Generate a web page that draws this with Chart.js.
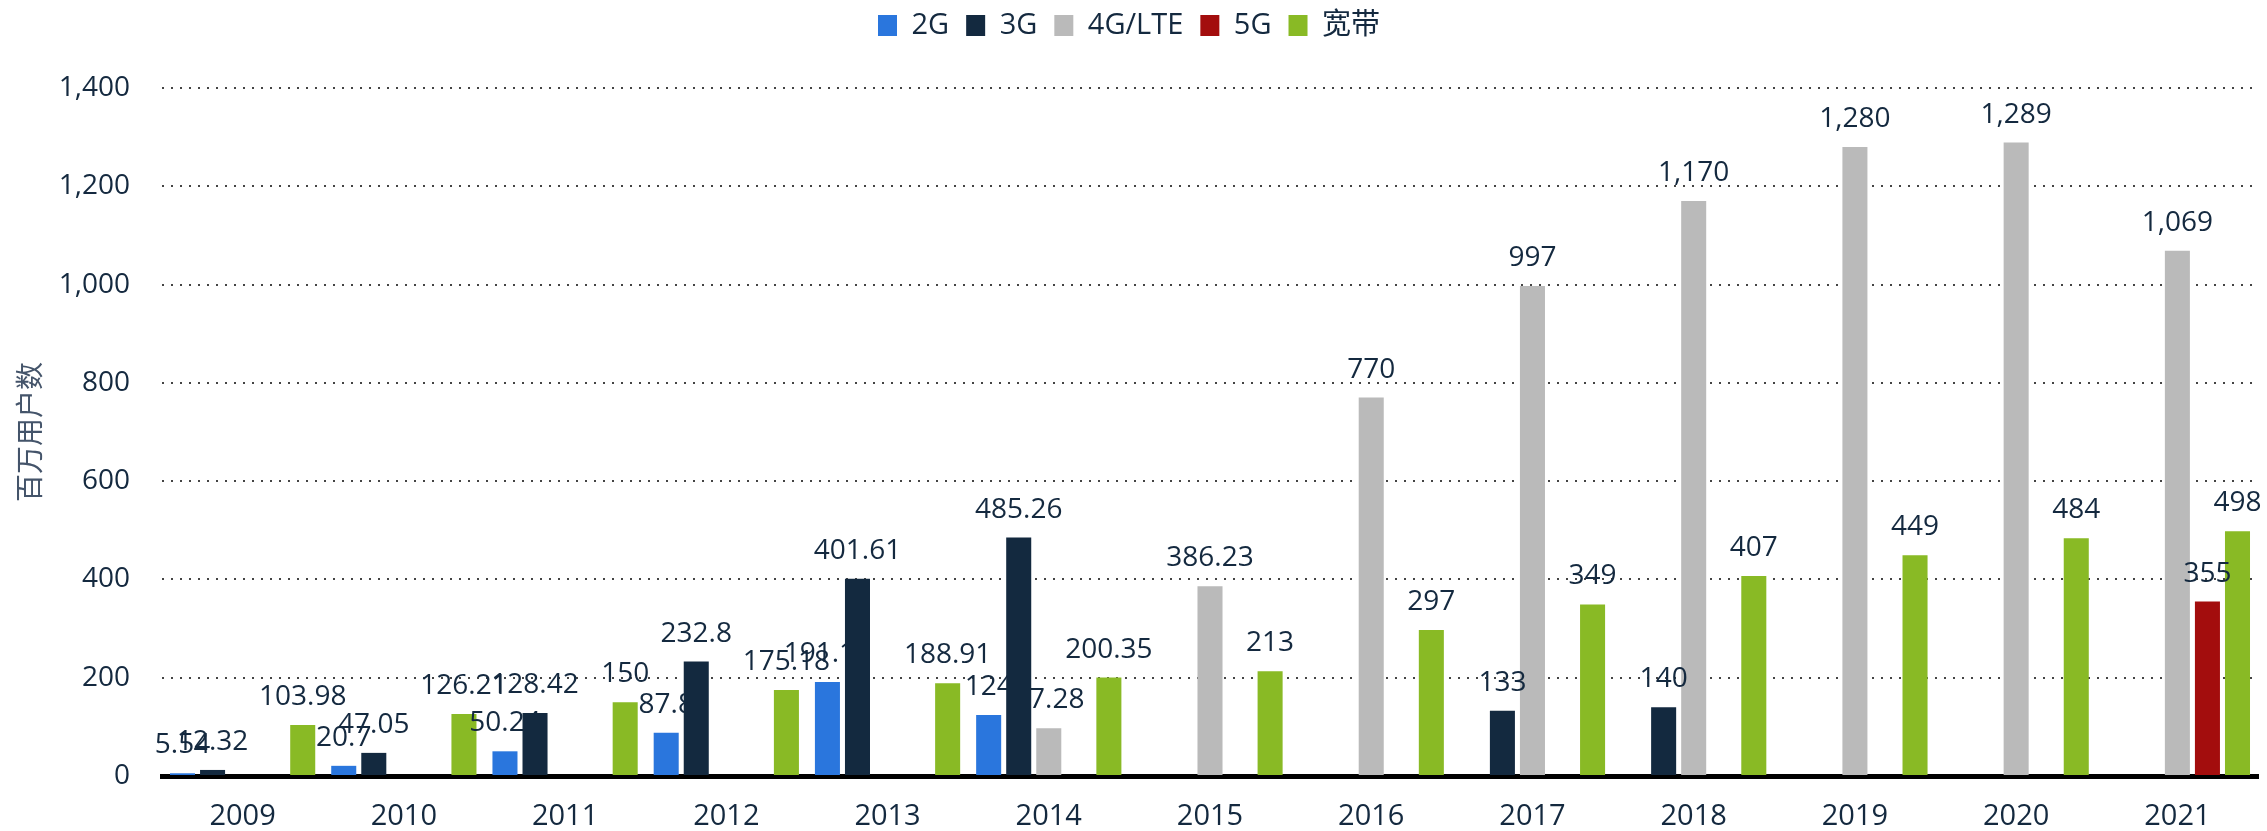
<!DOCTYPE html>
<html>
<head>
<meta charset="utf-8">
<script src="https://cdn.jsdelivr.net/npm/chart.js@4/dist/chart.umd.min.js"></script>
<style>
  body { margin: 0; background: #fff; }
  #wrap { width: 2267px; height: 831px; }
</style>
</head>
<body>
<div id="wrap"><canvas id="myChart" width="2267" height="831"></canvas></div>
<script>
const years = ['2009','2010','2011','2012','2013','2014','2015','2016','2017','2018','2019','2020','2021'];
const g2 = [5.54, 20.7, 50.24, 87.8, 191.16, 124, null, null, null, null, null, null, null];
const g3 = [12.32, 47.05, 128.42, 232.8, 401.61, 485.26, null, null, 133, 140, null, null, null];
const g4 = [null, null, null, null, null, 97.28, 386.23, 770, 997, 1170, 1280, 1289, 1069];
const g5 = [null, null, null, null, null, null, null, null, null, null, null, null, 355];
const broadband = [103.98, 126.21, 150, 175.18, 188.91, 200.35, 213, 297, 349, 407, 449, 484, 498];
const seriesNames = ['2G', '3G', '4G/LTE', '5G', '宽带'];
const yTicks = [0, 200, 400, 600, 800, 1000, 1200, 1400];

const navy = '#14293f';
const fontFamily = "'Open Sans', 'Noto Sans CJK SC', sans-serif";

// value labels above the bars; the 3G bars get painted over the other labels
function drawLabels(chart, i) {
  const ctx = chart.ctx;
  const meta = chart.getDatasetMeta(i);
  const data = chart.data.datasets[i].data;
  ctx.save();
  ctx.font = '28px ' + fontFamily;
  ctx.fillStyle = navy;
  ctx.textAlign = 'center';
  ctx.textBaseline = 'alphabetic';
  meta.data.forEach((bar, k) => {
    if (data[k] === null) return;
    ctx.fillText(data[k].toLocaleString('en-US'), bar.x, bar.y - 20);
  });
  ctx.restore();
}

const valueLabels = {
  id: 'valueLabels',
  beforeDatasetDraw(chart, args) {
    if (args.index === 1) {
      [4, 3, 2, 0].forEach(i => drawLabels(chart, i));
    }
  },
  afterDatasetDraw(chart, args) {
    if (args.index === 1) drawLabels(chart, 1);
  }
};

const legendSpace = {
  id: 'legendSpace',
  beforeInit(chart) {
    const fit = chart.legend.fit;
    chart.legend.fit = function () {
      fit.bind(chart.legend)();
      this.height = 94;
    };
  }
};

const colors = ['#2a76dd', '#13293f', '#bababa', '#a30d0d', '#89ba25'];
const values = [g2, g3, g4, g5, broadband];

const ctx = document.getElementById('myChart').getContext('2d');
const myChart = new Chart(ctx, {
  type: 'bar',
  data: {
    labels: years,
    datasets: seriesNames.map((name, i) => ({
      label: name,
      data: values[i],
      backgroundColor: colors[i],
      borderWidth: 0,
      categoryPercentage: 0.932,
      barPercentage: 0.833
    }))
  },
  options: {
    responsive: false,
    animation: false,
    layout: { padding: { top: -6, right: 9, left: 0, bottom: 0 } },
    plugins: {
      legend: {
        position: 'top',
        labels: {
          color: navy,
          boxWidth: 19,
          boxHeight: 21,
          padding: 17,
          font: { family: fontFamily, size: 29 }
        }
      },
      tooltip: { enabled: false }
    },
    scales: {
      x: {
        grid: { display: false, drawTicks: false },
        border: { display: true, color: '#000', width: 5 },
        ticks: { color: navy, padding: 23, font: { family: fontFamily, size: 29 } },
        afterFit(scale) { scale.height = 55; }
      },
      y: {
        min: 0,
        max: 1400,
        afterBuildTicks(scale) { scale.ticks = yTicks.map(v => ({ value: v })); },
        grid: { color: '#444', lineWidth: 2, drawTicks: false },
        border: { display: false, dash: [2, 7] },
        ticks: { color: navy, padding: 32, font: { family: fontFamily, size: 28 } },
        title: {
          display: true,
          text: '百万用户数',
          color: '#44546a',
          padding: { top: 13, bottom: 0 },
          font: { family: "'Noto Sans CJK SC', sans-serif", size: 28 }
        },
        afterFit(scale) { scale.width = 162; }
      }
    }
  },
  plugins: [valueLabels, legendSpace]
});
</script>
</body>
</html>
